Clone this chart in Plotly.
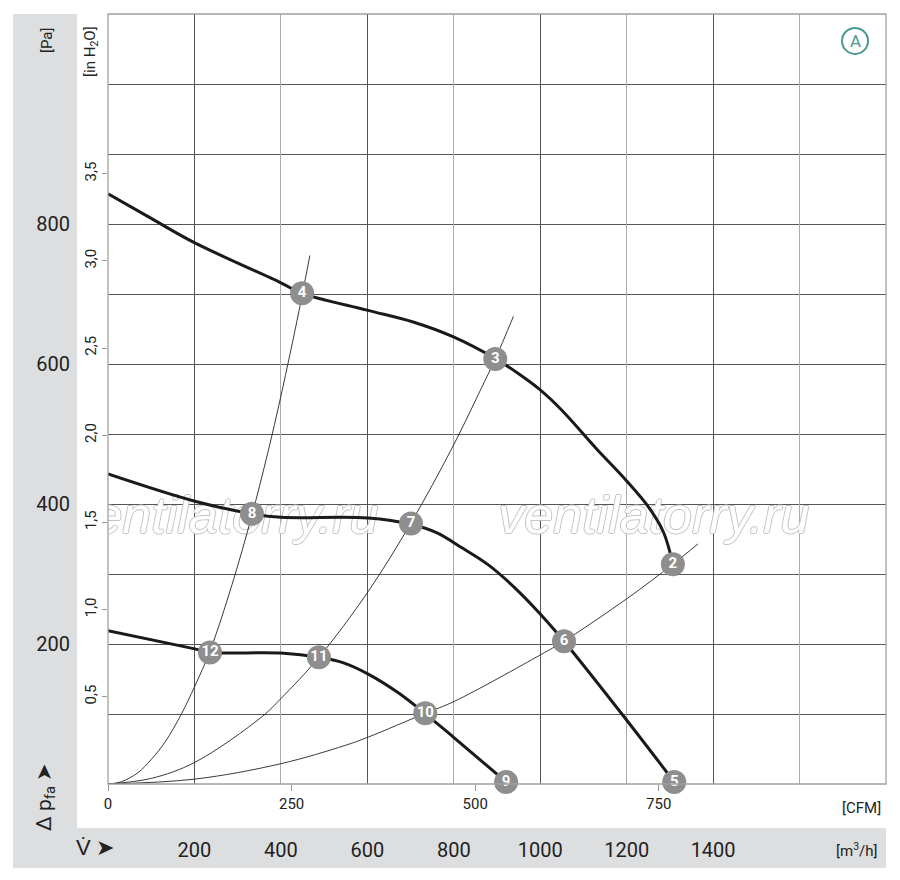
import plotly.graph_objects as go

# fan curves, flow in m3/h, pressure in Pa
curve1_q = [0, 100, 201, 400, 449, 599, 706, 798, 898, 950, 1000, 1050, 1130, 1200, 1249, 1285, 1307]
curve1_p = [843, 808, 773, 716, 701, 677, 660, 639, 607, 586, 563, 534, 479, 433, 397, 360, 314]

curve2_q = [0, 201, 333, 400, 602, 701, 760, 820, 880, 940, 1000, 1055, 1189, 1310]
curve2_p = [443, 404, 386, 381, 380, 371, 359, 337, 313, 281, 243, 204, 100, 3]

curve3_q = [0, 201, 236, 400, 488, 545, 602, 670, 733, 801, 921]
curve3_p = [219, 193, 188, 187, 181, 173, 157, 131, 101, 66, 3]

# system resistance lines
sysA_q = [0, 30, 69, 100, 132, 169, 201, 236, 287, 333, 370, 400, 442, 467]
sysA_p = [0, 3, 16, 35, 60, 99, 140, 190, 285, 384, 474, 554, 676, 755]

sysB_q = [0, 100, 201, 356, 400, 488, 602, 701, 796, 872, 896, 938]
sysB_p = [0, 8, 31, 96, 122, 181, 275, 373, 480, 576, 607, 668]

sysC_q = [0, 201, 400, 548, 602, 734, 801, 1002, 1055, 1201, 1307, 1365]
sysC_p = [0, 7, 29, 55, 67, 101, 118, 185, 204, 265, 314, 343]

# operating points
point_labels = ["2", "3", "4", "5", "6", "7", "8", "9", "10", "11", "12"]
point_q = [1307, 896, 449, 1310, 1055, 701, 333, 921, 734, 488, 236]
point_p = [314, 607, 701, 3, 204, 372, 386, 3, 101, 181, 188]

# axes
m3h_ticks = [200, 400, 600, 800, 1000, 1200, 1400]
cfm_ticks = [0, 250, 500, 750]
pa_grid = [100, 200, 300, 400, 500, 600, 700, 800, 900, 1000]
pa_labels = [200, 400, 600, 800]
inh2o_ticks = [0.5, 1.0, 1.5, 2.0, 2.5, 3.0, 3.5]
grid_dark = [200, 600, 1000, 1400]
grid_light = [400, 800, 1200, 1600]

Q_MAX = 1800
P_MAX = 1100
CFM_PER_M3H = 1 / 1.699
INH2O_PER_PA = 1 / 249.09

watermark_q = [266, 1263]
watermark_p = [377, 377]

FONT = "Liberation Sans Narrow, Roboto, Arial, sans-serif"
TXT = "#222222"

fig = go.Figure()

# empty traces so the overlaying axes get drawn
for xa, ya in [("x2", "y"), ("x3", "y"), ("x4", "y"), ("x", "y2")]:
    fig.add_trace(go.Scatter(x=[None], y=[None], xaxis=xa, yaxis=ya, mode="lines",
                             hoverinfo="skip", showlegend=False))

fig.add_trace(go.Scatter(
    x=watermark_q, y=watermark_p, mode="text",
    text=["ventilatorry.ru"] * 2,
    textfont=dict(family="Liberation Sans, Arial, sans-serif", size=52, color="white",
                  style="italic",
                  shadow="1px 0 #c4c4c4, -1px 0 #c4c4c4, 0 1px #c4c4c4, 0 -1px #c4c4c4"),
    hoverinfo="skip", showlegend=False))

for q, p in [(sysA_q, sysA_p), (sysB_q, sysB_p), (sysC_q, sysC_p)]:
    fig.add_trace(go.Scatter(x=q, y=p, mode="lines",
                             line=dict(color="#222", width=0.9, shape="spline", smoothing=1),
                             showlegend=False))

for q, p in [(curve1_q, curve1_p), (curve2_q, curve2_p), (curve3_q, curve3_p)]:
    fig.add_trace(go.Scatter(x=q, y=p, mode="lines",
                             line=dict(color="#1a1a1a", width=3, shape="spline", smoothing=1),
                             showlegend=False))

fig.add_trace(go.Scatter(
    x=point_q, y=point_p, mode="markers+text", text=point_labels,
    textposition="middle center",
    marker=dict(size=24, color="#8e8e8e"),
    textfont=dict(family=FONT, size=15, color="white", weight="bold"),
    cliponaxis=False, showlegend=False))

# the page body adds 8px, so the figure is 8px smaller and shifted up/left
fig.update_layout(
    width=892, height=872,
    margin=dict(l=100, r=14, t=6, b=96),
    paper_bgcolor="white", plot_bgcolor="white",
    font=dict(family=FONT, color=TXT),
    xaxis=dict(range=[0, Q_MAX], tickvals=m3h_ticks, ticktext=[str(v) for v in m3h_ticks],
               showgrid=False, zeroline=False, ticks="", ticklabelstandoff=52,
               automargin=False, tickfont=dict(size=20, color=TXT)),
    xaxis2=dict(overlaying="x", side="bottom", anchor="y",
                range=[0, Q_MAX * CFM_PER_M3H], tickvals=cfm_ticks,
                ticktext=[str(v) for v in cfm_ticks],
                showgrid=False, zeroline=False, ticks="outside", ticklen=6,
                tickcolor="#999", automargin=False, tickfont=dict(size=15, color=TXT)),
    xaxis3=dict(overlaying="x", anchor="y", range=[0, Q_MAX], tickvals=grid_dark,
                showgrid=True, gridcolor="#555", gridwidth=1, showticklabels=False,
                zeroline=False, ticks="", automargin=False),
    xaxis4=dict(overlaying="x", anchor="y", range=[0, Q_MAX], tickvals=grid_light,
                showgrid=True, gridcolor="#aaa", gridwidth=1.3, showticklabels=False,
                zeroline=False, ticks="", automargin=False),
    yaxis=dict(range=[0, P_MAX], tickvals=pa_grid,
               ticktext=[str(v) if v in pa_labels else "" for v in pa_grid],
               showgrid=True, gridcolor="#555", gridwidth=1, zeroline=False, ticks="",
               ticklabelstandoff=37, automargin=False, tickfont=dict(size=20, color=TXT)),
    yaxis2=dict(overlaying="y", side="left", anchor="x",
                range=[0, P_MAX * INH2O_PER_PA], tickvals=inh2o_ticks,
                ticktext=[f"{v:.1f}".replace(".", ",") for v in inh2o_ticks],
                tickangle=-90, showgrid=False, zeroline=False, ticks="outside",
                ticklen=5, tickcolor="#999", automargin=False,
                tickfont=dict(size=15, color=TXT)),
)

# grey bands on the left and bottom, plot border
fig.add_shape(type="rect", xref="paper", yref="paper", x0=-0.1221, x1=-0.0398,
              y0=-0.0571, y1=1, fillcolor="#dddee0", line_width=0, layer="below")
fig.add_shape(type="rect", xref="paper", yref="paper", x0=-0.1221, x1=1,
              y0=-0.1091, y1=-0.0571, fillcolor="#dddee0", line_width=0, layer="below")
fig.add_shape(type="rect", xref="paper", yref="paper", x0=0, x1=1, y0=0, y1=1,
              line=dict(color="#a0a0a0", width=1.3))

# "A" badge
fig.add_shape(type="circle", xref="paper", yref="paper", xsizemode="pixel", ysizemode="pixel",
              xanchor=0.9602, yanchor=0.965, x0=-13, x1=13, y0=-13, y1=13,
              line=dict(color="#4a9990", width=2))
fig.add_annotation(x=0.9602, y=0.965, xref="paper", yref="paper", text="A", showarrow=False,
                   font=dict(size=17, color="#4a9990"), xanchor="center", yanchor="middle")

labels = [
    ("[Pa]", -0.0784, 0.9662, -90, 15),
    ("[in H<sub>2</sub>O]", -0.0219, 0.952, -90, 15),
    ("Δ p<sub>fa</sub> ➤", -0.081, -0.0169, -90, 21),
    ("V\u0307 ➤", -0.0167, -0.0831, 0, 22),
    ("[CFM]", 0.968, -0.0312, 0, 15),
    ("[m<sup>3</sup>/h]", 0.9627, -0.0857, 0, 15),
]
for text, x, y, ang, size in labels:
    fig.add_annotation(x=x, y=y, xref="paper", yref="paper", text=text, showarrow=False,
                       textangle=ang, font=dict(size=size, color=TXT),
                       xanchor="center", yanchor="middle")

fig.write_html("out.html")
